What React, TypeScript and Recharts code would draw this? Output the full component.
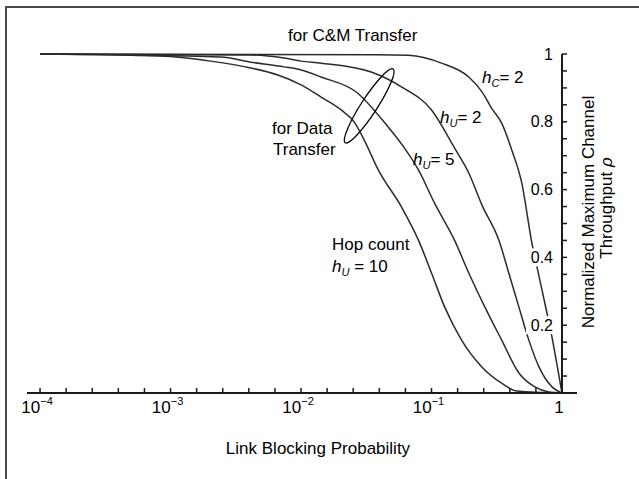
import { LineChart, Line, XAxis, YAxis, ReferenceLine, ReferenceDot } from 'recharts';

const FONT = '"Liberation Sans", Arial, Helvetica, sans-serif';
const INK = '#1a1a1a';
const CURVE = '#2b2b2b';

// link blocking probability (p) and normalized throughput (rho)
const hC2P = [1e-4, 0.0378, 0.0666, 0.119, 0.193, 0.243, 0.29, 0.345, 0.412, 0.492, 0.588, 0.643, 0.767, 0.838, 0.916, 1];
const hC2Rho = [1, 0.998, 0.996, 0.973, 0.932, 0.889, 0.839, 0.796, 0.717, 0.619, 0.442, 0.372, 0.236, 0.165, 0.083, 0];

const hU2P = [1e-4, 0.00412, 0.0074, 0.01, 0.01425, 0.0345, 0.0588, 0.1, 0.15, 0.193, 0.243, 0.328, 0.391, 0.467, 0.557, 0.666, 0.838, 1];
const hU2Rho = [1, 0.997, 0.988, 0.979, 0.973, 0.947, 0.903, 0.835, 0.723, 0.649, 0.555, 0.451, 0.354, 0.254, 0.156, 0.077, 0.018, 0];

const hU5P = [1e-4, 0.00243, 0.00412, 0.0074, 0.01, 0.01425, 0.0265, 0.0451, 0.0619, 0.0794, 0.1055, 0.15, 0.193, 0.256, 0.345, 0.467, 0.619, 0.794, 1];
const hU5Rho = [1, 0.991, 0.976, 0.962, 0.953, 0.932, 0.888, 0.791, 0.723, 0.658, 0.56, 0.451, 0.354, 0.254, 0.156, 0.059, 0.018, 0.003, 0];

const hU10P = [1e-4, 0.000837, 0.00203, 0.00412, 0.00665, 0.01, 0.01425, 0.0203, 0.0256, 0.0305, 0.0391, 0.0588, 0.0794, 0.1, 0.126, 0.17, 0.243, 0.345, 0.451, 1];
const hU10Rho = [1, 0.994, 0.979, 0.959, 0.938, 0.909, 0.873, 0.835, 0.799, 0.746, 0.658, 0.549, 0.451, 0.354, 0.254, 0.156, 0.077, 0.029, 0.006, 0];

// axis ticks
const xDecades = [-4, -3, -2, -1, 0];
const xMinorStep = 0.2;
const yTicks = [0, 0.05, 0.1, 0.15, 0.2, 0.25, 0.3, 0.35, 0.4, 0.45, 0.5, 0.55, 0.6, 0.65, 0.7, 0.75, 0.8, 0.85, 0.9, 0.95, 1];
const yLabels: Record<string, string> = { '0.2': '0.2', '0.4': '0.4', '0.6': '0.6', '0.8': '0.8', '1': '1' };

const X_MIN = Math.pow(10, -4.1);
const X_END = Math.pow(10, 0.115);

// ellipse marking the data-transfer curves
const ELLIPSE_P = 0.0333;
const ELLIPSE_RHO = 0.847;

const toRows = (p: number[], rho: number[]) => p.map((v, i) => ({ p: v, rho: rho[i] }));

const series = [
  { key: 'hC2', data: toRows(hC2P, hC2Rho) },
  { key: 'hU2', data: toRows(hU2P, hU2Rho) },
  { key: 'hU5', data: toRows(hU5P, hU5Rho) },
  { key: 'hU10', data: toRows(hU10P, hU10Rho) },
];

const xTicks: number[] = [];
for (let e = xDecades[0]; e <= xDecades[xDecades.length - 1] + 1e-9; e += xMinorStep) {
  xTicks.push(Math.pow(10, e));
}

function XTick(props: any) {
  const { x, y, payload } = props;
  const lg = Math.log10(payload.value);
  const isDecade = Math.abs(lg - Math.round(lg)) < 1e-6;
  const exp = Math.round(lg);
  return (
    <g>
      <line x1={x} x2={x} y1={y} y2={y - 5} stroke={INK} strokeWidth={1.5} />
      {isDecade && (
        <text x={x - 3} y={y + 20} textAnchor="middle" fontFamily={FONT} fontSize={17} fill="#000">
          {exp === 0 ? '1' : '10'}
          {exp !== 0 && (
            <tspan dy={-8} fontSize={11}>
              {'\u2212' + Math.abs(exp)}
            </tspan>
          )}
        </text>
      )}
    </g>
  );
}

// y labels sit on a white patch so the curves break behind them
function YTick(props: any) {
  const { x, y, payload } = props;
  const key = String(Math.round(payload.value * 100) / 100);
  const label = yLabels[key];
  const w = label ? label.length * 8 + 4 : 0;
  return (
    <g>
      <line x1={x} x2={x + 5} y1={y} y2={y} stroke={INK} strokeWidth={1.5} />
      {label && (
        <>
          <rect x={x - 9 - w + 1} y={y - 9} width={w + 2} height={18} fill="#fff" />
          <text x={x - 9} y={y} dy="0.35em" textAnchor="end" fontFamily={FONT} fontSize={16} fill="#000">
            {label}
          </text>
        </>
      )}
    </g>
  );
}

function Ellipse(props: any) {
  const { cx, cy } = props;
  return (
    <ellipse
      cx={cx}
      cy={cy}
      rx={44}
      ry={8}
      transform={`rotate(-57 ${cx} ${cy})`}
      fill="none"
      stroke="#000"
      strokeWidth={1.3}
    />
  );
}

function Hlabel({ x, y, sub, rest }: { x: number; y: number; sub: string; rest: string }) {
  return (
    <text x={x} y={y} fontFamily={FONT} fontSize={17} fill="#000">
      <tspan fontStyle="italic">h</tspan>
      <tspan fontSize={11} dy={4} fontStyle="italic">
        {sub}
      </tspan>
      <tspan dy={-4}>{rest}</tspan>
    </text>
  );
}

export default function App() {
  return (
    <div style={{ position: 'absolute', left: 0, top: 0, width: 639, height: 479, overflow: 'hidden', background: '#fff' }}>
      <div
        style={{
          position: 'absolute',
          left: 5,
          top: 6,
          width: 700,
          height: 600,
          border: '2px solid #4a4a4a',
        }}
      />
      <div style={{ position: 'absolute', left: 0, top: 0 }}>
        <LineChart width={639} height={479} margin={{ top: 54, right: 0, bottom: 56, left: 27 }}>
          <XAxis
            type="number"
            dataKey="p"
            scale="log"
            domain={[X_MIN, 1]}
            allowDataOverflow
            ticks={xTicks}
            interval={0}
            height={30}
            tickLine={false}
            tickSize={0}
            tickMargin={0}
            tick={<XTick />}
            axisLine={{ stroke: INK, strokeWidth: 2 }}
          />
          {series.map((s) => (
            <Line
              key={s.key}
              data={s.data}
              dataKey="rho"
              type="monotone"
              stroke={CURVE}
              strokeWidth={1.5}
              dot={false}
              activeDot={false}
              isAnimationActive={false}
            />
          ))}
          <YAxis
            type="number"
            orientation="right"
            domain={[0, 1]}
            ticks={yTicks}
            interval={0}
            width={77}
            tickLine={false}
            tickSize={0}
            tickMargin={0}
            tick={<YTick />}
            axisLine={{ stroke: INK, strokeWidth: 2 }}
            zIndex={1000}
          />
          <ReferenceLine
            segment={[
              { x: 1, y: 0 },
              { x: X_END, y: 0 },
            ]}
            stroke={INK}
            strokeWidth={2}
            ifOverflow="visible"
          />
          <ReferenceDot x={ELLIPSE_P} y={ELLIPSE_RHO} r={1} shape={<Ellipse />} ifOverflow="visible" />
        </LineChart>
      </div>
      <svg width={639} height={479} style={{ position: 'absolute', left: 0, top: 0, pointerEvents: 'none' }}>
        <text x={288} y={41} fontFamily={FONT} fontSize={17} fill="#000">
          for C&amp;M Transfer
        </text>
        <Hlabel x={482} y={83} sub="C" rest="= 2" />
        <Hlabel x={440} y={123} sub="U" rest="= 2" />
        <Hlabel x={413} y={165} sub="U" rest="= 5" />
        <text x={272} y={134} fontFamily={FONT} fontSize={17} fill="#000">
          for Data
        </text>
        <text x={273} y={155} fontFamily={FONT} fontSize={17} fill="#000">
          Transfer
        </text>
        <text x={332} y={250} fontFamily={FONT} fontSize={17} fill="#000">
          Hop count
        </text>
        <Hlabel x={332} y={272} sub="U" rest=" = 10" />
        <text x={318} y={454} textAnchor="middle" fontFamily={FONT} fontSize={17} fill="#000">
          Link Blocking Probability
        </text>
        <text
          x={0}
          y={0}
          transform="translate(594 212) rotate(-90)"
          textAnchor="middle"
          fontFamily={FONT}
          fontSize={17}
          fill="#000"
        >
          Normalized Maximum Channel
        </text>
        <text
          x={0}
          y={0}
          transform="translate(612 208) rotate(-90)"
          textAnchor="middle"
          fontFamily={FONT}
          fontSize={17}
          fill="#000"
        >
          Throughput <tspan fontStyle="italic">{'\u03c1'}</tspan>
        </text>
      </svg>
    </div>
  );
}
